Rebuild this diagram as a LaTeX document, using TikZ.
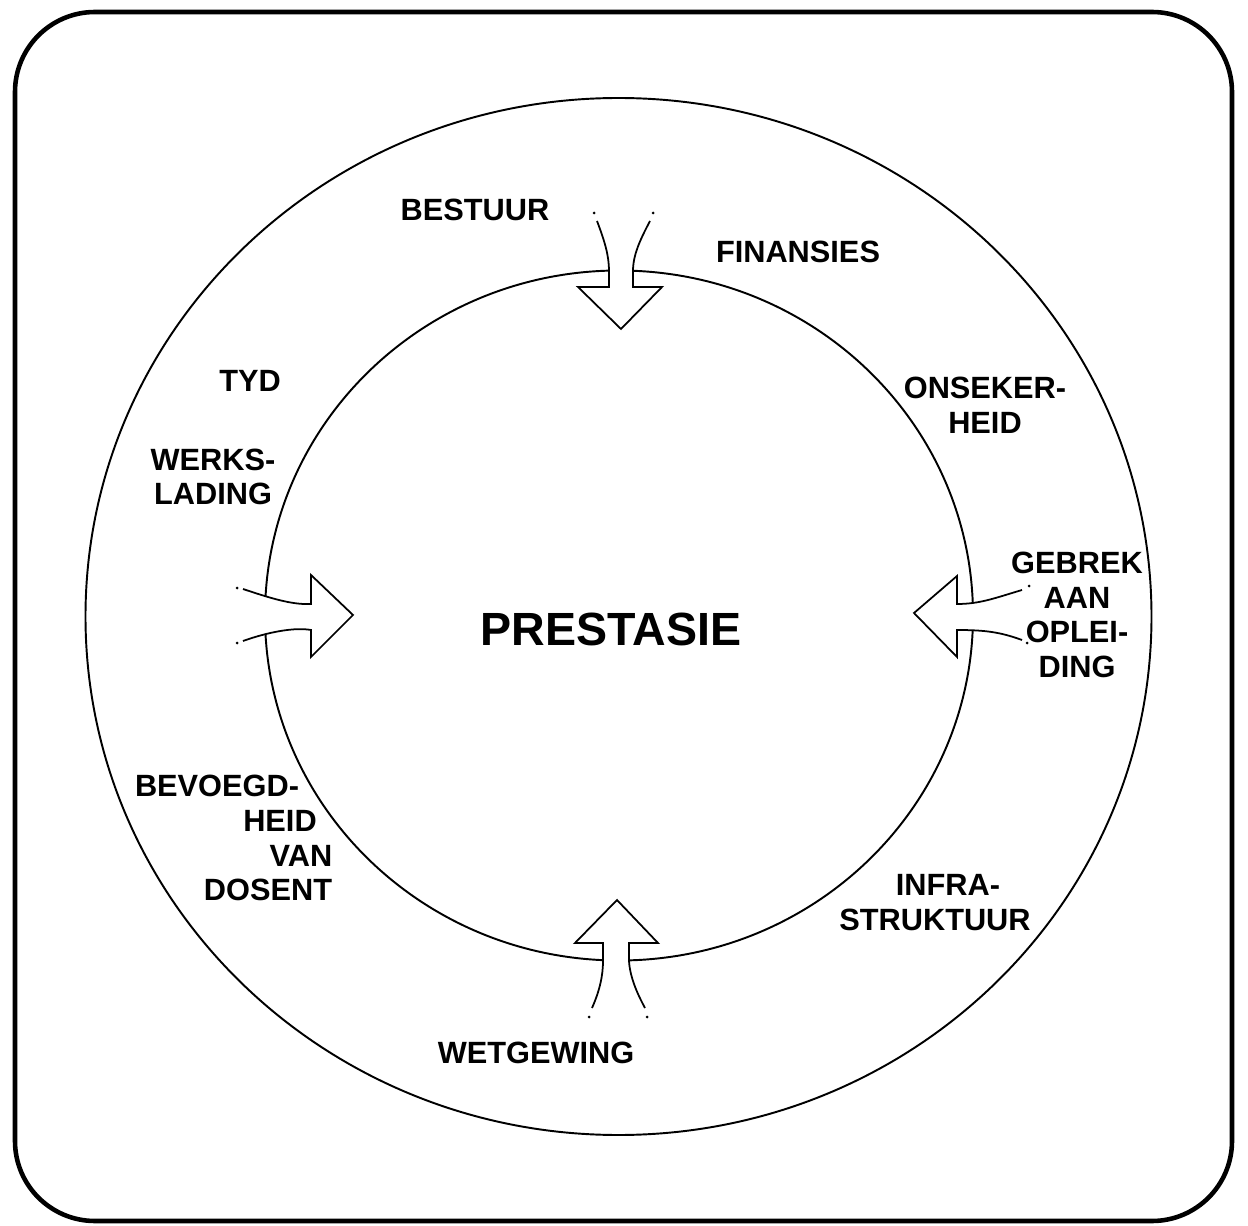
\documentclass[tikz,border=0pt]{standalone}
\usepackage{fontspec}
\setmainfont{Liberation Sans}
\tikzset{
  lbl/.style={font=\bfseries\fontsize{17.5}{19.7}\selectfont, align=center, inner sep=0pt},
  ring/.style={line width=1.1pt},
  flow/.style={line width=1pt, fill=white},
  speck/.style={fill=black},
}

\begin{document}
\begin{tikzpicture}[x=0.02cm, y=-0.02cm]
        \useasboundingbox (0,0) rectangle (1248,1226);
        % frame and rings
        \draw[line width=2.6pt, rounded corners=1.6cm] (15,12) rectangle (1232,1221);
        \draw[ring] (618.5,616.5) ellipse [x radius=533, y radius=518.5];
        \draw[ring] (619,615.5) ellipse [x radius=354, y radius=345];
        % arrows into the inner ring
        \draw[flow] (597,221) .. controls (605,242) and (609,256) .. (609,271) -- (609,287) -- (578,287) -- (621,329) -- (662,287) -- (633,287) -- (633,271) .. controls (633,255) and (640,240) .. (650,221);
        \draw[flow] (592,1008) .. controls (600,990) and (603,975) .. (603,961) -- (603,943) -- (575,943) -- (617,900) -- (658,943) -- (629,943) -- (629,961) .. controls (630,978) and (638,995) .. (645,1008);
        \draw[flow] (243,589) .. controls (270,598) and (292,605) .. (311,604) -- (311,575) -- (353,615) -- (311,657) -- (311,630) .. controls (295,627) and (268,632) .. (243,641);
        \draw[flow] (1022,590) .. controls (995,598) and (980,604) .. (957,604) -- (957,576) -- (914,613) -- (957,657) -- (957,630) .. controls (985,630) and (1000,632) .. (1022,640);
        \foreach \px/\py in {594/213, 653/213, 589/1017, 647/1017, 237/588, 237/643, 1029/586, 1027/643}
          \fill[speck] (\px,\py) circle [radius=1.5];
        % labels
        \node[lbl] (bestuur) at (475,210) {BESTUUR};
        \node[lbl] (finansies) at (798,252) {FINANSIES};
        \node[lbl] (tyd) at (250,381) {TYD};
        \node[lbl] (werkslading) at (213,477) {WERKS-\\LADING};
        \node[lbl] (onsekerheid) at (985,405) {ONSEKER-\\HEID};
        \node[lbl] (opleiding) at (1077,615) {GEBREK\\AAN\\OPLEI-\\DING};
        \node[lbl] (infra) at (948,885) {INFRA-};
        \node[lbl] (struktuur) at (935,920) {STRUKTUUR};
        \node[lbl] (bevoegd) at (217,786) {BEVOEGD-};
        \node[lbl] (heid) at (280,821) {HEID};
        \node[lbl] (van) at (301,856) {VAN};
        \node[lbl] (dosent) at (268,890) {DOSENT};
        \node[lbl] (wetgewing) at (536,1053) {WETGEWING};
        \node[lbl, font=\bfseries\fontsize{26.5}{30}\selectfont] (prestasie) at (611,629) {PRESTASIE};
      \end{tikzpicture}
\end{document}
